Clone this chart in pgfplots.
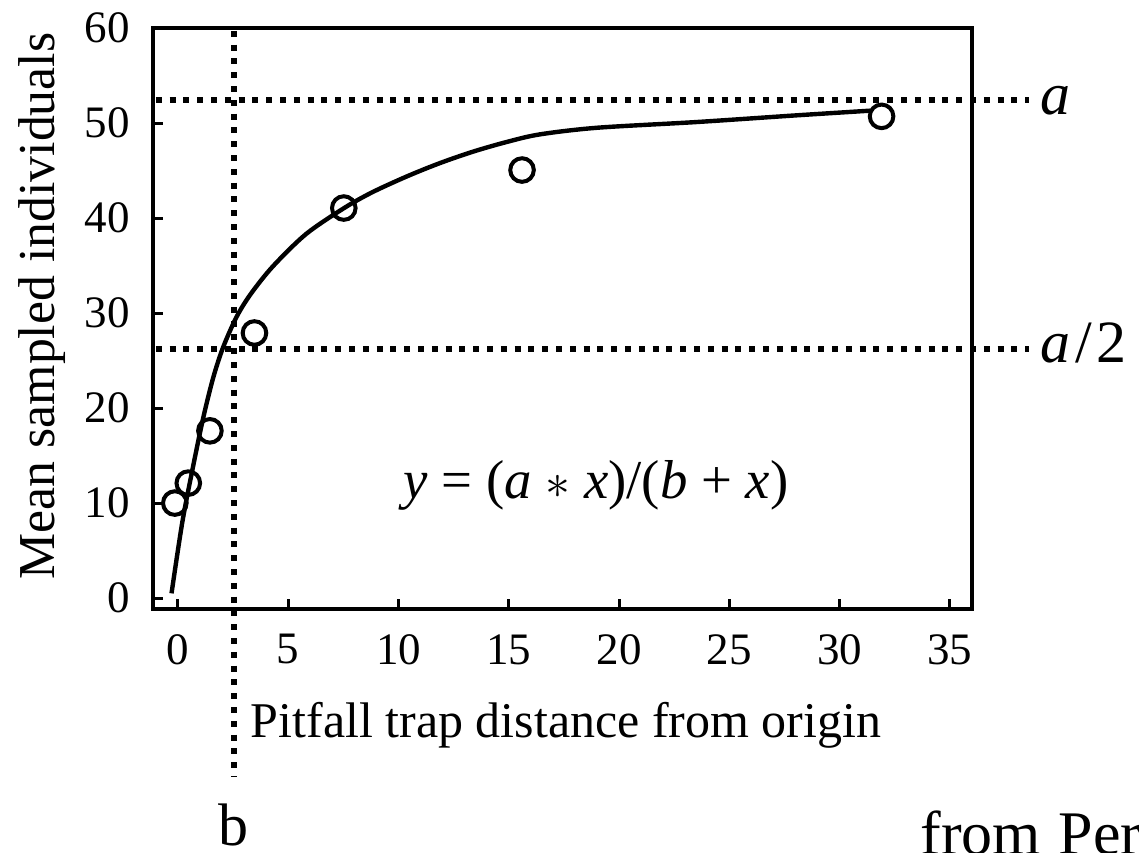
\documentclass[border=0pt]{standalone}
\usepackage{pgfplots}
\pgfplotsset{compat=1.18}
\usepackage{fontspec}
\setmainfont{Liberation Serif}

\pgfplotsset{
  refline/.style={black, line width=3pt, dash pattern=on 3pt off 3.9pt},
}

\begin{document}
\begin{tikzpicture}[x=1pt,y=1pt]
\useasboundingbox (0,0) rectangle (569.5,426);
\begin{axis}[
  at={(76.5pt,121.5pt)}, anchor=south west,
  scale only axis, width=409.5pt, height=290.5pt,
  xmin=-1.13, xmax=36, ymin=-1.15, ymax=60,
  xtick={0,5,...,35}, ytick={0,10,...,60},
  tick pos=left, tick align=inside, major tick length=5pt,
  axis line style={line width=1.9pt},
  every tick/.style={black, line width=1.5pt},
  /pgf/number format/assume math mode=true,
  tick label style={font=\fontsize{22.5}{24}\selectfont, inner sep=0pt},
  xticklabel style={anchor=north, yshift=-12.5pt},
  yticklabel style={anchor=east, xshift=-11.5pt},
  clip=false,
]
% reference lines: asymptote a, half-saturation a/2 and constant b
\addplot[refline] coordinates {(-1.0,52.4) (38.6,52.4)};
\addplot[refline] coordinates {(-1.0,26.2) (38.6,26.2)};
\addplot[refline] coordinates {(2.54,59.7) (2.54,-18.8)};

% fitted saturation curve
\addplot[black, line width=2.2pt, smooth, no markers] coordinates {
  (-0.29,0.5) (0.2,8.0) (0.7,14.0) (1.15,19.0) (1.6,23.2) (2.05,26.4)
  (2.66,29.6) (3.3,32.0) (4.3,34.9) (5.8,38.3) (7.5,41.0) (8.8,42.7)
  (10.4,44.4) (11.9,45.8) (13.4,47.0) (14.9,48.0) (16.4,48.8)
  (19.0,49.5) (23.5,50.1) (28.0,50.8) (31.4,51.3)
};

% observed means
\addplot[black, only marks, mark=o, mark size=5.9pt, mark options={line width=2pt}] coordinates {
  (-0.14,10.0) (0.47,12.1) (1.45,17.6) (3.47,27.9) (7.52,41.05) (15.6,45.05) (31.9,50.7)
};

\node[anchor=center, inner sep=0pt, font=\fontsize{27.4}{30}\selectfont]
  at (axis cs:18.95,11.9) {\textit{y} = (\textit{a} $\ast$ \textit{x})/(\textit{b} + \textit{x})};
\node[anchor=base west, inner sep=0pt, yshift=-6.9pt, font=\fontsize{30}{32}\selectfont]
  at (axis cs:39.1,52.4) {\textit{a}};
\node[anchor=base west, inner sep=0pt, yshift=-6.9pt, font=\fontsize{30}{32}\selectfont]
  at (axis cs:39.1,26.2) {\textit{a}\kern2.5pt/\kern2pt2};
\node[anchor=base, inner sep=0pt, font=\fontsize{30}{32}\selectfont]
  at (axis cs:2.54,-26) {b};
\end{axis}
\node[rotate=90, anchor=base, inner sep=0pt, font=\fontsize{25.9}{28}\selectfont]
  at (27.5,273) {Mean sampled individuals};
\node[anchor=base, inner sep=0pt, font=\fontsize{25}{28}\selectfont]
  at (283,57.5) {Pitfall trap distance from origin};
\node[anchor=base west, inner sep=0pt, font=\fontsize{31}{34}\selectfont]
  at (460,-1) {from\kern9pt Per};
\end{tikzpicture}
\end{document}
